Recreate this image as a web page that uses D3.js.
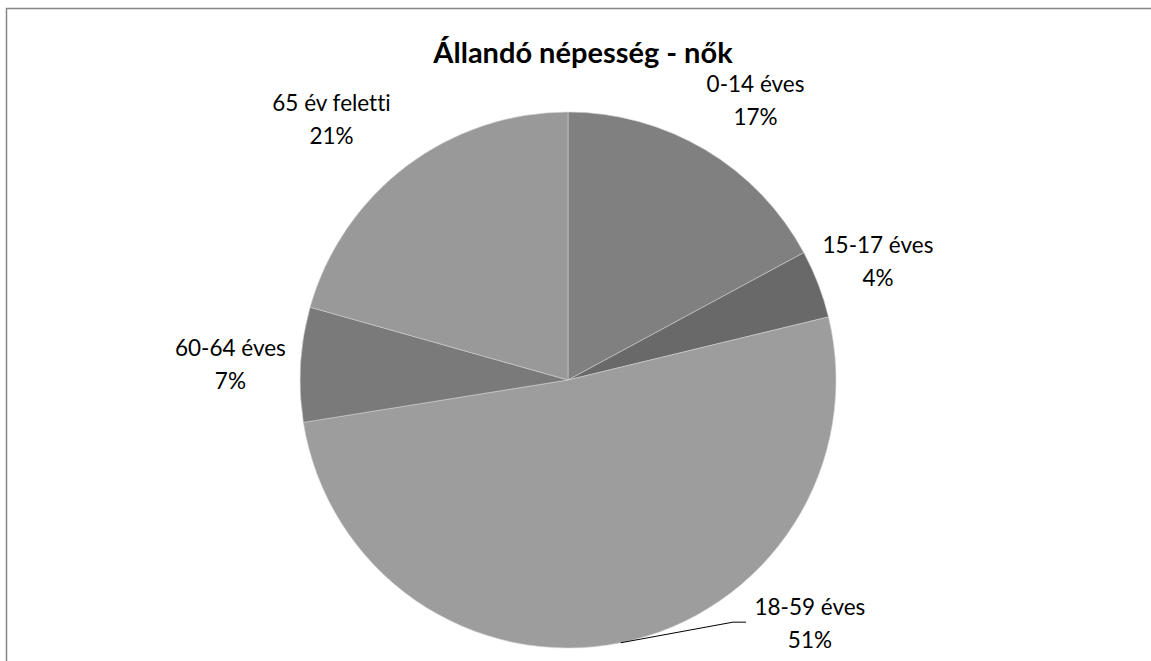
<!DOCTYPE html>
<html lang="hu">
<head>
    <meta charset="UTF-8">
    <script src="https://d3js.org/d3.v7.min.js"></script>
    <title>Állandó népesség - nők</title>
    <style>
        body { margin: 0; background: #fff; }
        text { font-family: Lato, "Open Sans", sans-serif; fill: #000; font-variant-ligatures: none; }
        .title { font-size: 29px; font-weight: bold; }
        .lbl { font-size: 22.5px; }
    </style>
</head>
<body>
    <svg width="1151" height="661"></svg>
    <script>
        var categories = ["0-14 éves", "15-17 éves", "18-59 éves", "60-64 éves", "65 év feletti"];
        var values = [17.1, 4.1, 51.2, 6.9, 20.6];
        var percentLabels = ["17%", "4%", "51%", "7%", "21%"];
        var colors = ["#808080", "#696969", "#9d9d9d", "#7a7a7a", "#999999"];

        var width = 1151, height = 661;
        var cx = 568, cy = 380, radius = 268;
        var svg = d3.select("svg");

        // chart frame
        svg.append("rect")
            .attr("x", 6.5).attr("y", 8.5)
            .attr("width", width).attr("height", height)
            .attr("fill", "none").attr("stroke", "#868686").attr("stroke-width", 1.5);

        svg.append("text").attr("class", "title")
            .attr("x", 583).attr("y", 63)
            .attr("text-anchor", "middle")
            .text("Állandó népesség - nők");

        var data = categories.map((c, i) => ({ cat: c, value: values[i], pct: percentLabels[i], color: colors[i] }));

        var pie = d3.pie().value(d => d.value).sort(null);
        var arcs = pie(data);
        var arc = d3.arc().innerRadius(0).outerRadius(radius);

        var g = svg.append("g").attr("transform", `translate(${cx},${cy})`);

        g.selectAll("path")
            .data(arcs)
            .enter().append("path")
            .attr("d", arc)
            .attr("fill", d => d.data.color)
            .attr("stroke", "#d0d0d0")
            .attr("stroke-width", 0.6);

        // label placement: radius and angle tweaks per slice (Excel best fit)
        var labelTweak = {
            "0-14 éves": { r: 337, da: 3 },
            "15-17 éves": { r: 332, da: 0 },
            "18-59 éves": { r: 343, da: -33.5 },
            "60-64 éves": { r: 338, da: -0.6 },
            "65 év feletti": { r: 352, da: -5.1 }
        };

        function labelPos(d) {
            var t = labelTweak[d.data.cat];
            var a = (d.startAngle + d.endAngle) / 2 + t.da * Math.PI / 180;
            return [t.r * Math.sin(a), -t.r * Math.cos(a)];
        }

        // leader line for the large slice
        arcs.filter(d => d.data.cat === "18-59 éves").forEach(d => {
            var mid = (d.startAngle + d.endAngle) / 2;
            var p0 = [radius * Math.sin(mid), -radius * Math.cos(mid)];
            var lp = labelPos(d);
            var p2 = [lp[0] - 64, lp[1] - 1];
            var p1 = [p2[0] - 13, p2[1]];
            g.append("polyline")
                .attr("points", [p0, p1, p2].map(p => p.join(",")).join(" "))
                .attr("fill", "none").attr("stroke", "#000").attr("stroke-width", 1);
        });

        var labels = g.selectAll("g.label")
            .data(arcs)
            .enter().append("g")
            .attr("class", "label")
            .attr("transform", d => `translate(${labelPos(d)})`);

        labels.append("text").attr("class", "lbl")
            .attr("text-anchor", "middle")
            .attr("y", -8)
            .text(d => d.data.cat);

        labels.append("text").attr("class", "lbl")
            .attr("text-anchor", "middle")
            .attr("y", 25)
            .text(d => d.data.pct);
    </script>
</body>
</html>
